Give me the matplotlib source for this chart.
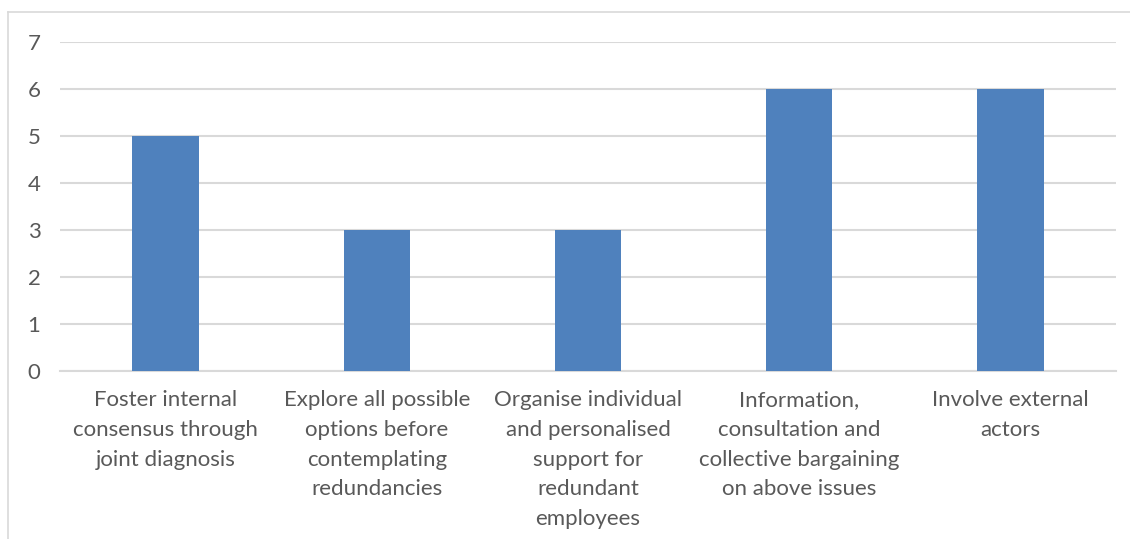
import matplotlib
matplotlib.use("Agg")
import matplotlib.pyplot as plt
from matplotlib.lines import Line2D

categories = [
    "Foster internal\nconsensus through\njoint diagnosis",
    "Explore all possible\noptions before\ncontemplating\nredundancies",
    "Organise individual\nand personalised\nsupport for\nredundant\nemployees",
    "Information,\nconsultation and\ncollective bargaining\non above issues",
    "Involve external\nactors",
]
values = [5, 3, 3, 6, 6]
yticks = [0, 1, 2, 3, 4, 5, 6, 7]

plt.rcParams['font.family'] = ['Lato', 'DejaVu Sans']
W, H = 1130, 539
fig = plt.figure(figsize=(W / 100, H / 100), dpi=100)
ax = fig.add_axes([60 / W, 1 - 371 / H, (1116 - 60) / W, (371 - 42) / H])

x = list(range(len(categories)))
ax.bar(x, values, width=0.315, color="#4f81bd", zorder=3)
ax.set_xlim(-0.5, len(categories) - 0.5)
ax.set_ylim(0, 7)
ax.set_yticks(yticks)
ax.set_yticklabels([str(v) for v in yticks])
ax.set_xticks(x)
ax.set_xticklabels(categories, linespacing=1.6)
ax.grid(axis="y", color="#d9d9d9", linewidth=1.5, zorder=0)
for s in ["top", "right", "left"]:
    ax.spines[s].set_visible(False)
ax.spines["bottom"].set_color("#d9d9d9")
ax.spines["bottom"].set_linewidth(1.5)
ax.tick_params(axis="both", length=0, colors="#595959", labelsize=16)
ax.tick_params(axis="y", pad=14)
ax.tick_params(axis="x", pad=14)
for lab in ax.get_xticklabels() + ax.get_yticklabels():
    lab.set_color("#595959")

# outer chart frame (left and top edges visible)
fig.add_artist(Line2D([8 / W, 8 / W], [0, 1 - 12 / H], transform=fig.transFigure,
                      color="#d9d9d9", linewidth=1.2))
fig.add_artist(Line2D([8 / W, 1], [1 - 12 / H, 1 - 12 / H], transform=fig.transFigure,
                      color="#d9d9d9", linewidth=1.2))

fig.savefig("out.png", dpi=100)
